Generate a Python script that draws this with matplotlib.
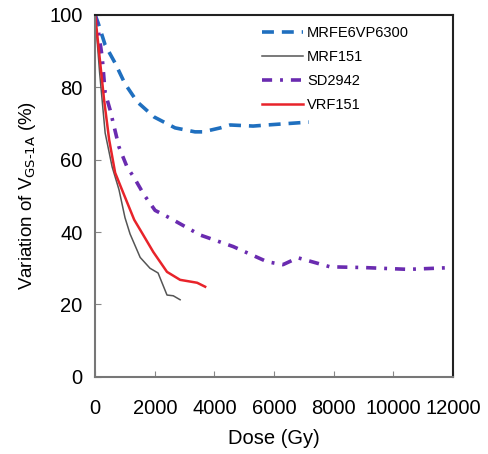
import matplotlib
matplotlib.use('Agg')
import matplotlib.pyplot as plt

plt.rcParams['font.family'] = ['Liberation Sans', 'DejaVu Sans']

# MRFE6VP6300
dose_mrfe = [0, 100, 335, 670, 1000, 1410, 1980, 2680, 3350, 3620, 4200, 4530, 5300, 5770, 7170]
var_mrfe = [100, 97.8, 91.7, 86.7, 81, 76, 71.8, 68.8, 67.7, 67.7, 68.8, 69.6, 69.3, 69.6, 70.4]

# MRF151
dose_mrf = [0, 150, 335, 570, 800, 1000, 1170, 1510, 1840, 2110, 2410, 2620, 2850]
var_mrf = [100, 84, 67.4, 58, 51.7, 44, 39.5, 33, 30, 28.7, 22.6, 22.4, 21.3]

# SD2942
dose_sd = [0, 100, 235, 335, 500, 640, 800, 1070, 1310, 1640, 2010, 2480, 3520, 4630, 5770, 6300, 6800, 7880, 9000, 10500, 12000]
var_sd = [100, 96, 88.4, 78.5, 73.8, 69, 63.5, 58, 55, 50.3, 46, 44, 39.2, 36, 31.8, 31, 32.9, 30.4, 30.2, 29.7, 30.2]

# VRF151
dose_vrf = [0, 170, 300, 470, 670, 900, 1310, 1570, 1950, 2410, 2850, 3420, 3690]
var_vrf = [100, 86.7, 76.5, 65.5, 56.4, 51.7, 43.4, 39.8, 34.5, 29, 26.8, 26, 24.9]

fig = plt.figure(figsize=(4.88, 4.54), dpi=100)
ax = fig.add_axes([0.195, 0.170, 0.733, 0.797])

ax.plot(dose_mrfe, var_mrfe, color='#1f6fbf', linestyle=(0, (3.3, 2.2)), linewidth=2.6, label='MRFE6VP6300')
ax.plot(dose_mrf, var_mrf, color='#555555', linewidth=1.1, label='MRF151')
ax.plot(dose_sd, var_sd, color='#6a2bb0', linestyle=(0, (2.8, 2.2, 0.8, 2.2)), linewidth=2.6, label='SD2942')
ax.plot(dose_vrf, var_vrf, color='#e8232a', linewidth=1.8, label='VRF151')

ax.set_xlim(0, 12000)
ax.set_ylim(0, 100)
ax.set_xticks(range(0, 12001, 2000))
ax.set_yticks(range(0, 101, 20))
ax.tick_params(direction='in', length=4, labelsize=14.5, pad=16, color='#888888')
ax.tick_params(axis='y', pad=9)

for s in ['left', 'bottom']:
    ax.spines[s].set_color('#777777')
    ax.spines[s].set_linewidth(1.5)
for s in ['top', 'right']:
    ax.spines[s].set_color('#222222')
    ax.spines[s].set_linewidth(1.5)

ax.set_xlabel('Dose (Gy)', fontsize=14.5, labelpad=8)
ax.set_ylabel('Variation of V$_{\\mathrm{GS\\text{-}1A}}$ (%)', fontsize=13.5, labelpad=8)

ax.legend(loc='upper left', frameon=False, fontsize=10.5, handlelength=2.8,
          handletextpad=0.3, labelspacing=0.68, borderaxespad=0.0,
          bbox_to_anchor=(0.45, 0.985))

fig.savefig('out.png', dpi=100)
